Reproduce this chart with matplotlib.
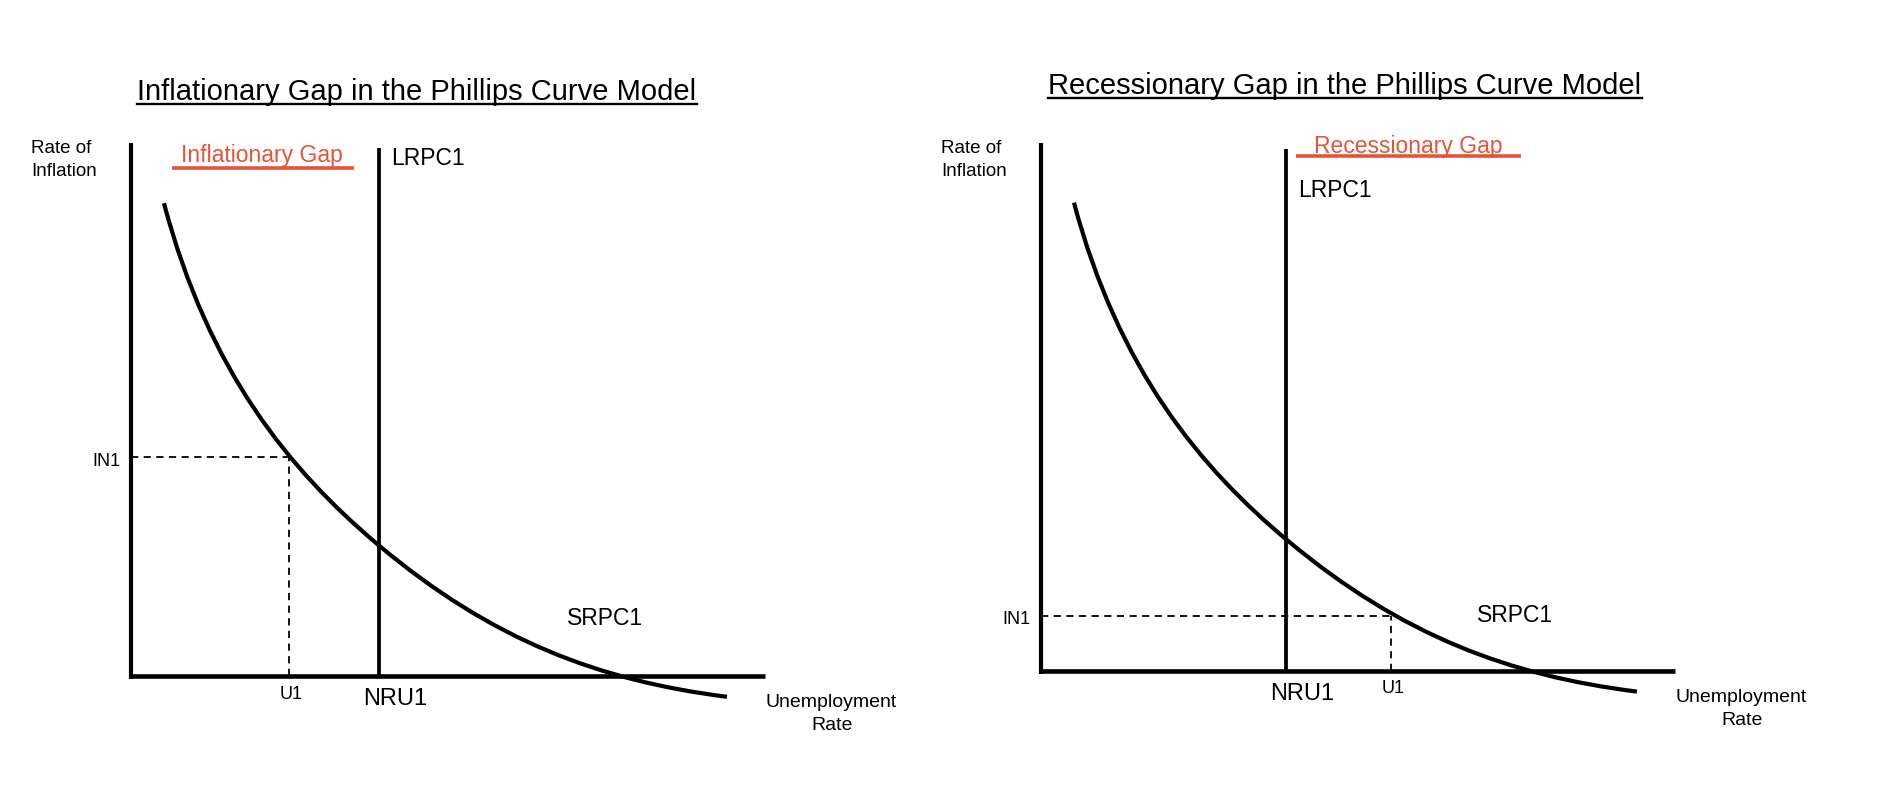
import matplotlib
matplotlib.use("Agg")
import matplotlib.pyplot as plt
from matplotlib.path import Path
from matplotlib.patches import PathPatch
from matplotlib.lines import Line2D

# ---------------- data (axis units: x 0..10 along the x-axis, y 0..10 up the y-axis) ----------
titles = ["Inflationary Gap in the Phillips Curve Model",
          "Recessionary Gap in the Phillips Curve Model"]
gap_labels = ["Inflationary Gap", "Recessionary Gap"]

# natural rate of unemployment (LRPC position) and its top
nru_x = [3.91, 3.87]
lrpc_top = [9.91, 9.89]

# the chosen point on the SRPC
u1_x = [2.49, 5.52]
in1_y = [4.10, 1.05]

# SRPC drawn as two joined cubic Bezier pieces: control points (x, y)
srpc_ctrl_x = [0.52, 1.22, 2.50, 3.90, 5.70, 7.40, 9.40]
srpc_ctrl_y = [8.87, 5.72, 3.86, 2.46, 0.66, -0.09, -0.39]

# red gap bar (x start, x end, y)
gap_x0 = [0.65, 4.02]
gap_x1 = [3.52, 7.57]
gap_y = [9.54, 9.75]

# label positions
lrpc_lbl = [(4.10, 9.70), (4.06, 9.10)]
srpc_lbl = [(6.88, 1.07), (6.88, 1.05)]
gaptxt = [(2.07, 9.76), (5.80, 9.94)]

plt.rcParams["font.family"] = ["Liberation Sans", "DejaVu Sans"]

RED = "#e2553a"

fig = plt.figure(figsize=(19.03, 7.96), dpi=100)
W, H = 1903.0, 796.0

# axes rectangles in pixels: (left, top-of-y-axis, right end of x-axis, origin y)
panels = [(131, 143, 765, 676), (1041, 143, 1675, 671)]
title_pos = [(417, 100), (1345, 94)]

codes = [Path.MOVETO] + [Path.CURVE4] * (len(srpc_ctrl_x) - 1)

for i, (l, t, r, b) in enumerate(panels):
    ax = fig.add_axes([l / W, (H - b) / H, (r - l) / W, (b - t) / H])
    ax.set_xlim(0, 10)
    ax.set_ylim(0, 10)
    ax.set_axis_off()

    # axes lines
    ax.plot([0, 0], [-0.05, 10], color="black", lw=3.0, clip_on=False, solid_capstyle="butt")
    ax.plot([0, 10], [0, 0], color="black", lw=3.3, clip_on=False, solid_capstyle="butt")
    # LRPC
    ax.plot([nru_x[i], nru_x[i]], [0, lrpc_top[i]], color="black", lw=2.7, clip_on=False,
            solid_capstyle="butt")
    # SRPC
    path = Path(list(zip(srpc_ctrl_x, srpc_ctrl_y)), codes)
    ax.add_patch(PathPatch(path, facecolor="none", edgecolor="black", lw=3.0, clip_on=False))
    # dashed guides
    ax.plot([0, u1_x[i]], [in1_y[i], in1_y[i]], color="black", lw=1.3, ls=(0, (4, 3)), clip_on=False)
    ax.plot([u1_x[i], u1_x[i]], [0, in1_y[i]], color="black", lw=1.3, ls=(0, (4, 3)), clip_on=False)
    # gap bar
    ax.plot([gap_x0[i], gap_x1[i]], [gap_y[i], gap_y[i]], color=RED, lw=2.6, clip_on=False,
            solid_capstyle="butt")
    ax.text(gaptxt[i][0], gaptxt[i][1], gap_labels[i], color=RED, fontsize=16.5,
            ha="center", va="center")

    # labels
    ax.text(lrpc_lbl[i][0], lrpc_lbl[i][1], "LRPC1", fontsize=16.5, ha="left", va="center")
    ax.text(srpc_lbl[i][0], srpc_lbl[i][1], "SRPC1", fontsize=16.5, ha="left", va="center")
    ax.text(nru_x[i] + 0.25, -0.43, "NRU1", fontsize=17, ha="center", va="center")
    ax.text(u1_x[i] + 0.04, -0.34, "U1", fontsize=13, ha="center", va="center")
    ax.text(-0.17, in1_y[i] - 0.07, "IN1", fontsize=13, ha="right", va="center")
    ax.text(-1.57, 9.68, "Rate of\nInflation", fontsize=13.5, ha="left", va="center",
            linespacing=1.45)
    ax.text(11.05, -0.72, "Unemployment\nRate", fontsize=14, ha="center", va="center",
            linespacing=1.45)

# titles with underline
fig.canvas.draw()
renderer = fig.canvas.get_renderer()
for (tx, ty), title in zip(title_pos, titles):
    txt = fig.text(tx / W, (H - ty) / H, title, fontsize=21, ha="center", va="baseline")
    bb = txt.get_window_extent(renderer)
    yline = (H - ty - 4) / H
    fig.add_artist(Line2D([bb.x0 / W, bb.x1 / W], [yline, yline], color="black", lw=1.7))

fig.savefig("out.png", dpi=100, facecolor="white")
